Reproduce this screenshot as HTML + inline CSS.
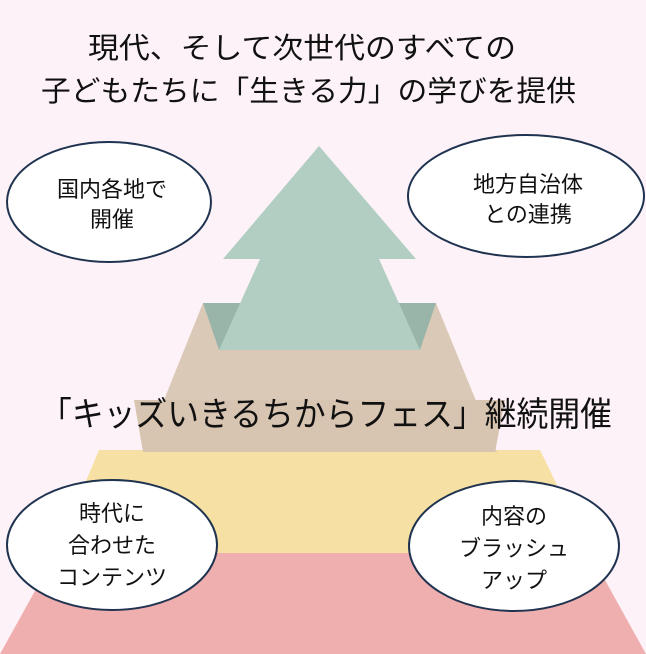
<!DOCTYPE html>
<html><head><meta charset="utf-8"><style>
html,body{margin:0;padding:0;background:#fdf2f8}
svg{display:block}
text{font-family:"Liberation Sans","Noto Sans CJK JP",sans-serif;fill:#111}
</style></head><body>
<svg width="646" height="654" viewBox="0 0 646 654" xmlns="http://www.w3.org/2000/svg">
<rect width="646" height="654" fill="#fdf2f8"/>
<polygon points="56,553 590,553 646,654 0,654" fill="#efafae"/>
<polygon points="99,450 540,450 590,553 56,553" fill="#f7e0a3"/>
<polygon points="203,303 436,303 497,452 143,452" fill="#dbc9b7"/>
<polygon points="134,400 505,400 495,452 143,452" fill="#d7c4b1"/>
<polygon points="203,303 436,303 420,350 219,350" fill="#99b5aa"/>
<polygon points="319,146 416,259 379,259 420,350 219,350 260,259 223,259" fill="#b2cec3"/>
<text x="88" y="58" font-size="29" textLength="428" lengthAdjust="spacingAndGlyphs">現代、そして次世代のすべての</text>
<text x="41" y="101" font-size="29" textLength="535" lengthAdjust="spacingAndGlyphs">子どもたちに「生きる力」の学びを提供</text>
<text x="40" y="426" font-size="34" textLength="572" lengthAdjust="spacingAndGlyphs">「キッズいきるちからフェス」継続開催</text>
<g fill="#fff" stroke="#1f3350" stroke-width="2">
<ellipse cx="109" cy="202" rx="102" ry="60"/>
<ellipse cx="526" cy="196" rx="118" ry="61"/>
<ellipse cx="112" cy="545" rx="105" ry="65"/>
<ellipse cx="514" cy="546" rx="105" ry="65"/>
</g>
<g font-size="22" text-anchor="middle">
<text x="112" y="197">国内各地で</text>
<text x="112" y="227">開催</text>
<text x="528" y="192">地方自治体</text>
<text x="528" y="222">との連携</text>
<text x="112" y="521">時代に</text>
<text x="112" y="553">合わせた</text>
<text x="112" y="585">コンテンツ</text>
<text x="514" y="524">内容の</text>
<text x="514" y="556">ブラッシュ</text>
<text x="514" y="588">アップ</text>
</g>
</svg>
</body></html>
